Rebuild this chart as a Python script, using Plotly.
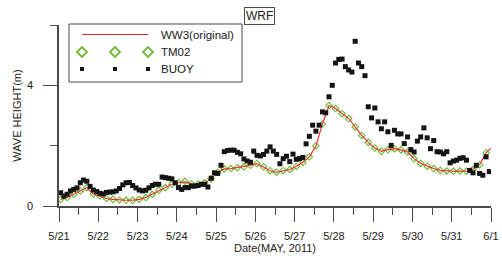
import pandas as pd
import plotly.graph_objects as go

# ---- data ----
ww3_start = "2011-05-21 01:00"
ww3_values = [0.22, 0.28, 0.39, 0.50, 0.61, 0.40, 0.33, 0.25, 0.22, 0.20, 0.19, 0.19,
              0.22, 0.28, 0.39, 0.52, 0.61, 0.72, 0.77, 0.80, 0.74, 0.72, 0.77, 0.90,
              1.12, 1.23, 1.24, 1.27, 1.30, 1.35, 1.41, 1.30, 1.17, 1.12, 1.17, 1.21,
              1.31, 1.45, 1.63, 1.99, 2.72, 3.33, 3.23, 3.06, 2.90, 2.62, 2.34, 2.11,
              1.92, 1.81, 1.87, 1.90, 1.86, 1.79, 1.57, 1.41, 1.32, 1.24, 1.18, 1.16,
              1.15, 1.16, 1.15, 1.21, 1.37, 1.76]
ww3_end_time = "2011-06-01 00:00"
ww3_end_value = 1.92

tm02_values = [0.22, 0.28, 0.39, 0.50, 0.61, 0.40, 0.33, 0.25, 0.22, 0.20, 0.19, 0.19,
               0.22, 0.28, 0.39, 0.52, 0.61, 0.72, 0.77, 0.82, 0.74, 0.72, 0.77, 0.90,
               1.12, 1.23, 1.24, 1.27, 1.30, 1.35, 1.41, 1.30, 1.17, 1.12, 1.17, 1.21,
               1.31, 1.45, 1.63, 1.99, 2.72, 3.33, 3.23, 3.06, 2.90, 2.62, 2.34, 2.11,
               1.92, 1.81, 1.87, 1.90, 1.86, 1.79, 1.57, 1.41, 1.32, 1.24, 1.18, 1.16,
               1.15, 1.16, 1.15, 1.21, 1.37, 1.76]

buoy_start = "2011-05-21 01:00"
buoy_values = [0.44, 0.33, 0.39, 0.50, 0.55, 0.60, 0.77, 0.86, 0.82, 0.65, 0.53, 0.48,
               0.42, 0.40, 0.45, 0.46, 0.47, 0.50, 0.58, 0.70, 0.77, 0.78, 0.68, 0.60,
               0.53, 0.50, 0.52, 0.60, 0.68, 0.72, 0.72, 0.96, 0.94, 0.92, 0.90, 0.77,
               0.61, 0.55, 0.61, 0.61, 0.66, 0.66, 0.68, 0.72, 0.72, 0.63, 0.92, 1.10,
               1.08, 1.35, 1.80, 1.84, 1.85, 1.85, 1.78, 1.73, 1.56, 1.49, 1.45, 1.82,
               1.68, 1.66, 1.71, 1.82, 1.96, 1.82, 1.71, 1.40, 1.57, 1.65, 1.47, 1.72,
               1.55, 1.57, 1.61, 2.06, 2.31, 2.68, 2.48, 2.68, 3.12, 3.09, 3.62, 4.00,
               4.74, 4.86, 4.87, 4.62, 4.51, 4.44, 5.46, 4.74, 4.62, 4.32, 3.29, 2.92,
               3.25, 2.79, 2.56, 2.79, 2.46, 2.01, 2.51, 2.39, 2.39, 2.07, 2.29, 1.87,
               1.79, 2.15, 2.29, 2.59, 2.26, 1.90, 2.17, 1.80, 1.79, 1.73, 1.80, 1.43,
               1.49, 1.52, 1.58, 1.60, 1.52, 1.18, 1.10, 1.35, 1.08, 1.02, 1.63, 1.14]

x_ticks = ["2011-05-21", "2011-05-22", "2011-05-23", "2011-05-24", "2011-05-25", "2011-05-26",
           "2011-05-27", "2011-05-28", "2011-05-29", "2011-05-30", "2011-05-31", "2011-06-01"]
x_tick_labels = ["5/21", "5/22", "5/23", "5/24", "5/25", "5/26",
                 "5/27", "5/28", "5/29", "5/30", "5/31", "6/1"]
y_ticks = [0, 4]
y_tick_labels = ["0", "4"]

series_names = ["WW3(original)", "TM02", "BUOY"]
x_title = "Date(MAY, 2011)"
y_title = "WAVE HEIGHT(m)"
tag_text = "WRF"

# ---- build time axes ----
model_times = pd.date_range(ww3_start, periods=len(ww3_values), freq="4h")
ww3_x = list(model_times) + [pd.Timestamp(ww3_end_time)]
ww3_y = ww3_values + [ww3_end_value]
tm02_x = pd.date_range(ww3_start, periods=len(tm02_values), freq="4h")
buoy_x = pd.date_range(buoy_start, periods=len(buoy_values), freq="2h")

RED = "#f0282a"
GREEN = "#67bd2f"
BLACK = "#141414"
AXIS = "#4a4a4a"
FONT = "Liberation Sans, Arial, sans-serif"

fig = go.Figure()
fig.add_trace(go.Scatter(x=tm02_x, y=tm02_values, mode="markers", name=series_names[1],
                         marker=dict(symbol="diamond-open", size=5, color=GREEN,
                                     line=dict(width=1.1, color=GREEN)),
                         showlegend=False))
fig.add_trace(go.Scatter(x=ww3_x, y=ww3_y, mode="lines", name=series_names[0],
                         line=dict(color=RED, width=1.1), showlegend=False))
fig.add_trace(go.Scatter(x=buoy_x, y=buoy_values, mode="markers", name=series_names[2],
                         marker=dict(symbol="square", size=5, color=BLACK, line=dict(width=0)),
                         showlegend=False))

# ---- plot geometry (pixels) ----
W, H = 502, 262
L, R, T, B = 59, 11, 25, 56
pw, ph = W - L - R, H - T - B


def px(xp):
    return (xp - L) / pw


def py(yp):
    return (H - B - yp) / ph


shapes = []
annotations = []

# legend box
shapes.append(dict(type="rect", xref="paper", yref="paper",
                   x0=px(69), x1=px(242), y0=py(82), y1=py(24),
                   line=dict(color=AXIS, width=1), fillcolor="white", layer="above"))
# WW3 legend line
shapes.append(dict(type="line", xref="paper", yref="paper",
                   x0=px(82), x1=px(148), y0=py(34.5), y1=py(34.5),
                   line=dict(color=RED, width=1.2), layer="above"))
legend_sym_x = [82, 115, 148]
for lx in legend_sym_x:
    shapes.append(dict(type="path", xref="paper", yref="paper",
                       xsizemode="pixel", ysizemode="pixel",
                       xanchor=px(lx), yanchor=py(52),
                       path="M -5 0 L 0 5 L 5 0 L 0 -5 Z",
                       line=dict(color=GREEN, width=1.8), layer="above"))
    shapes.append(dict(type="rect", xref="paper", yref="paper",
                       xsizemode="pixel", ysizemode="pixel",
                       xanchor=px(lx), yanchor=py(69),
                       x0=-2, x1=2, y0=-2, y1=2,
                       fillcolor=BLACK, line=dict(width=0), layer="above"))

legend_rows_y = [34.5, 52, 68.5]
for name, ly in zip(series_names, legend_rows_y):
    annotations.append(dict(text=name, xref="paper", yref="paper",
                            x=px(159), y=py(ly), xanchor="left", yanchor="middle",
                            showarrow=False, font=dict(size=11.5, color="#222", family=FONT)))

annotations.append(dict(text=tag_text, xref="paper", yref="paper",
                        x=px(259), y=py(16), xanchor="center", yanchor="middle",
                        showarrow=False, bordercolor=AXIS, borderwidth=1, borderpad=1,
                        bgcolor="white",
                        font=dict(size=12, color="#222", family=FONT)))

fig.update_layout(
    width=W, height=H,
    margin=dict(l=L, r=R, t=T, b=B, pad=0, autoexpand=False),
    paper_bgcolor="white", plot_bgcolor="white",
    font=dict(family=FONT, size=11, color="#222"),
    shapes=shapes, annotations=annotations,
    showlegend=False,
)
fig.update_xaxes(
    range=[x_ticks[0], x_ticks[-1]],
    tickvals=x_ticks, ticktext=x_tick_labels,
    ticks="outside", ticklen=14, tickwidth=1.3, tickcolor=AXIS,
    minor=dict(dtick=43200000, ticks="outside", ticklen=7, tickwidth=1.3, tickcolor=AXIS),
    showline=True, linecolor=AXIS, linewidth=1.5,
    showgrid=False, zeroline=False, automargin=False,
    ticklabelstandoff=5,
    tickfont=dict(size=11, color="#222"),
    title=dict(text=x_title, font=dict(size=11, color="#222"), standoff=0),
)
fig.update_yaxes(
    range=[0, 6],
    tickvals=y_ticks, ticktext=y_tick_labels,
    ticks="outside", ticklen=14, tickwidth=1.3, tickcolor=AXIS,
    minor=dict(dtick=2, ticks="outside", ticklen=7, tickwidth=1.3, tickcolor=AXIS),
    showline=True, linecolor=AXIS, linewidth=1.5,
    showgrid=False, zeroline=False, automargin=False,
    ticklabelstandoff=8,
    tickfont=dict(size=11, color="#222"),
    title=dict(text=y_title, font=dict(size=11, color="#222"), standoff=3),
)

# remove the browser's default page margin so the figure sits at the window's corner
fig.write_html("out.html",
               config={"displayModeBar": False},
               post_script="document.body.style.margin='0';document.body.style.overflow='hidden';")
